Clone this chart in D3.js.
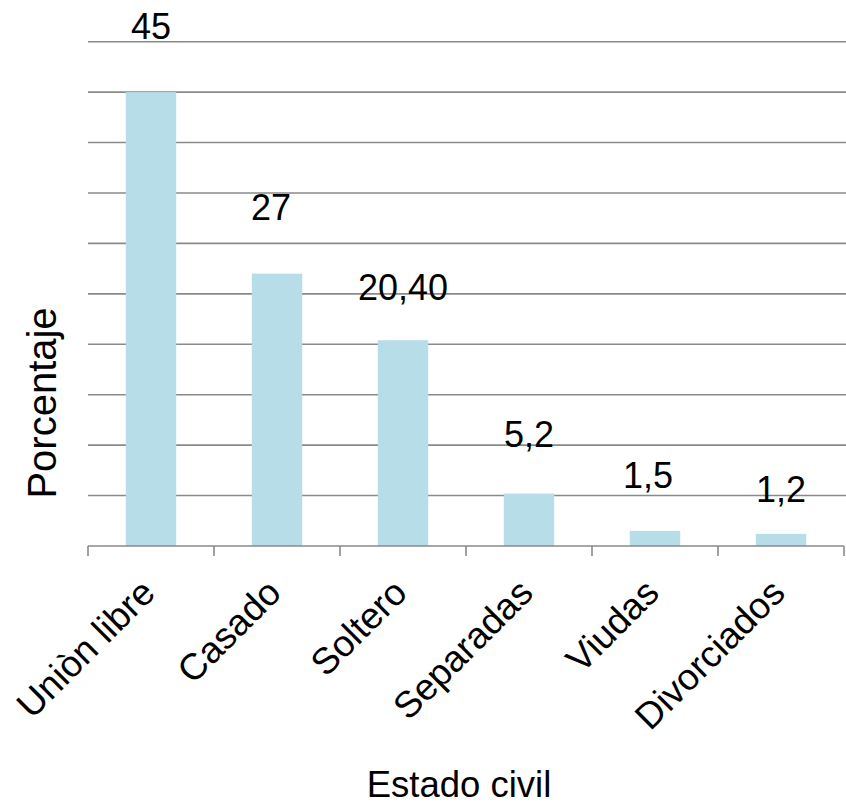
<!DOCTYPE html>
<html>
<head>
<meta charset="utf-8">
<script src="https://cdn.jsdelivr.net/npm/d3@7"></script>
<style>
  html, body { margin: 0; padding: 0; background: #ffffff; }
  svg { display: block; font-family: "Liberation Sans", Arial, sans-serif; }
</style>
</head>
<body>
<svg id="chart" width="846" height="805"></svg>
<script>
// Estado civil de la población (porcentaje)
const categories = ["Uniòn libre", "Casado", "Soltero", "Separadas", "Viudas", "Divorciados"];
const values = [45, 27, 20.4, 5.2, 1.5, 1.2];
const valueLabels = ["45", "27", "20,40", "5,2", "1,5", "1,2"];
const gridTicks = [0, 5, 10, 15, 20, 25, 30, 35, 40, 45, 50];

// Layout: manual offsets of each value label from its bar top [dx, dy]
const labelOffsets = [[0, -53], [-6, -54], [0, -40], [0, -47], [-7, -43], [0, -32]];

const svg = d3.select("#chart");
const plot = { left: 88, right: 844, top: 41.7, bottom: 546 };

const x = d3.scaleBand()
  .domain(categories)
  .range([plot.left, plot.right])
  .padding(0);

const y = d3.scaleLinear()
  .domain([0, 50])
  .range([plot.bottom, plot.top]);

const gridColor = "#8a8a8a";

// Horizontal gridlines
svg.append("g")
  .selectAll("line")
  .data(gridTicks.filter(d => d > 0))
  .join("line")
  .attr("x1", plot.left)
  .attr("x2", 846)
  .attr("y1", d => y(d))
  .attr("y2", d => y(d))
  .attr("stroke", gridColor)
  .attr("stroke-width", 1.6);

// Bars
const barW = x.bandwidth() * 0.4;
svg.append("g")
  .selectAll("rect")
  .data(values)
  .join("rect")
  .attr("x", (d, i) => x(categories[i]) + (x.bandwidth() - barW) / 2)
  .attr("y", d => y(d))
  .attr("width", barW)
  .attr("height", d => y(0) - y(d))
  .attr("fill", "#b7dde8");

// Category axis with tick marks at band boundaries
const axis = svg.append("g");
axis.append("line")
  .attr("x1", plot.left).attr("x2", plot.right)
  .attr("y1", y(0)).attr("y2", y(0))
  .attr("stroke", gridColor).attr("stroke-width", 1.6);
const boundaries = categories.map(c => x(c)).concat([x(categories[categories.length - 1]) + x.bandwidth()]);
axis.selectAll("line.tick")
  .data(boundaries)
  .join("line")
  .attr("class", "tick")
  .attr("x1", d => d).attr("x2", d => d)
  .attr("y1", y(0)).attr("y2", y(0) + 10)
  .attr("stroke", gridColor).attr("stroke-width", 1.6);

// Rotated category labels
svg.append("g")
  .selectAll("text")
  .data(categories)
  .join("text")
  .attr("transform", d => `translate(${x(d) + x.bandwidth() / 2 + 6},${y(0) + 49}) rotate(-45)`)
  .attr("text-anchor", "end")
  .attr("font-size", 37)
  .attr("fill", "#000")
  .text(d => d);

// Value labels
svg.append("g")
  .selectAll("text")
  .data(values)
  .join("text")
  .attr("x", (d, i) => x(categories[i]) + x.bandwidth() / 2 + labelOffsets[i][0])
  .attr("y", (d, i) => y(d) + labelOffsets[i][1])
  .attr("text-anchor", "middle")
  .attr("font-size", 36)
  .attr("fill", "#000")
  .text((d, i) => valueLabels[i]);

// Axis titles
svg.append("text")
  .attr("x", 459)
  .attr("y", 797)
  .attr("text-anchor", "middle")
  .attr("font-size", 36.5)
  .text("Estado civil");

svg.append("text")
  .attr("transform", "translate(56,403) rotate(-90)")
  .attr("text-anchor", "middle")
  .attr("font-size", 40)
  .text("Porcentaje");
</script>
</body>
</html>
